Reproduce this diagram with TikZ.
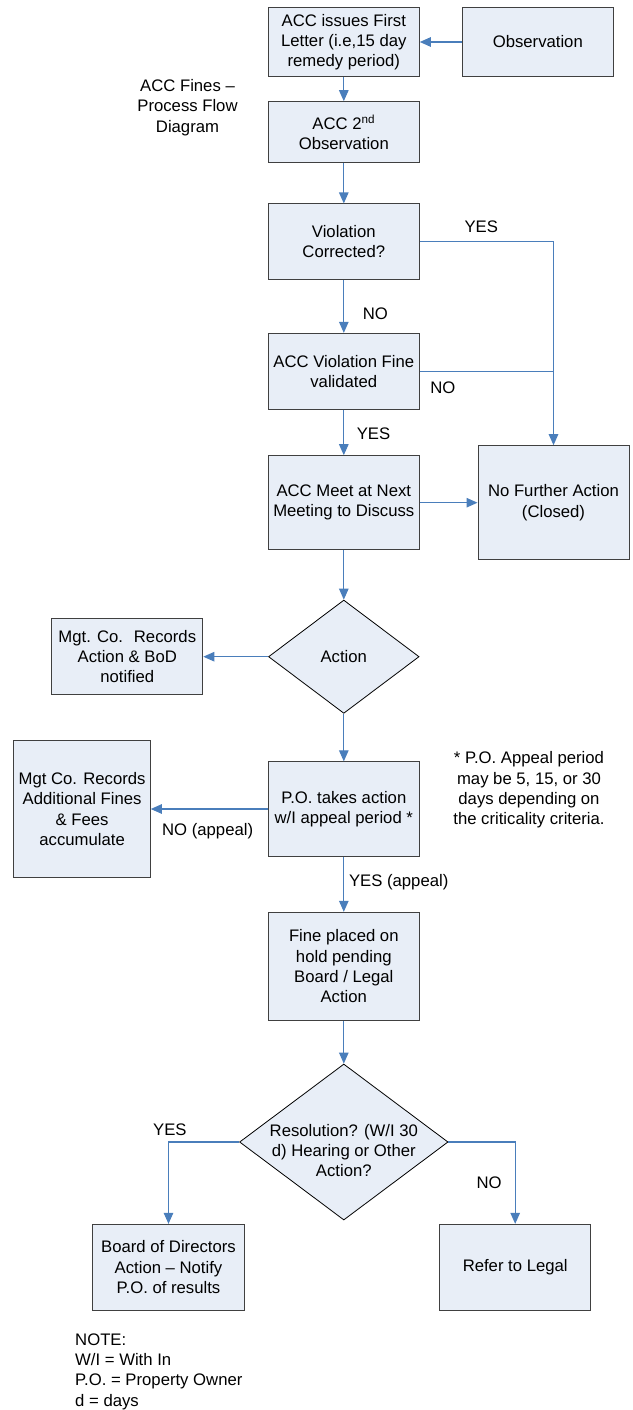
\documentclass[tikz,border=0pt]{standalone}
\usepackage{fontspec}
\setmainfont{Liberation Sans}
\usetikzlibrary{positioning, shapes.geometric, arrows.meta}
\definecolor{boxfill}{HTML}{E8EEF7}
\definecolor{boxline}{HTML}{404040}
\definecolor{flowblue}{HTML}{4A7EBB}
\tikzset{
  box/.style={draw=boxline, line width=1pt, fill=boxfill, align=center, inner sep=0pt, minimum width=151pt},
  decision/.style={diamond, draw=black, line width=0.8pt, fill=boxfill, align=center, inner sep=0pt},
  plain/.style={align=center, inner sep=0pt},
  tag/.style={inner sep=1pt, text=black},
  flow/.style={draw, color=flowblue, line width=1.1pt, -{Triangle[length=11pt, width=9.5pt]}},
  link/.style={draw, color=flowblue, line width=1.1pt},
}
\begin{document}
\begin{tikzpicture}[x=1pt, y=-1pt, font=\fontsize{16.7pt}{20.3pt}\selectfont]
    \useasboundingbox (0,0) rectangle (632,1410);
    \node[box, minimum height=69.5pt] (letter) at (343.8,42) {ACC issues First\\Letter (i.e,15 day\\remedy period)};
    \node[box, minimum height=69.5pt, node distance=194pt, right of=letter] (observ) {Observation};
    \node[box, minimum height=61pt, node distance=90.2pt, below of=letter] (second) {ACC 2\textsuperscript{nd}\\Observation};
    \node[box, minimum height=75.5pt, node distance=109.5pt, below of=second] (corrected) {Violation\\Corrected?};
    \node[box, minimum height=75.7pt, node distance=129.5pt, below of=corrected] (validated) {ACC Violation Fine\\validated};
    \node[box, minimum height=94pt, node distance=131.5pt, below of=validated] (meet) {ACC Meet at Next\\Meeting to Discuss};
    \node[box, minimum height=114pt, node distance=209.7pt, right of=meet] (closed) {No Further Action\\(Closed)};
    \node[decision, minimum width=150.6pt, minimum height=113.3pt, node distance=154pt, below of=meet] (action) {Action};
    \node[box, minimum height=76pt, node distance=216.5pt, left of=action] (records) {Mgt. Co.~ Records\\Action \& BoD\\notified};
    \node[box, minimum height=94.3pt, node distance=152.3pt, below of=action] (appeal) {P.O. takes action\\w/I appeal period *};
    \node[box, minimum width=136.4pt, minimum height=137pt, node distance=261.7pt, left of=appeal] (fees) {Mgt Co. Records\\Additional Fines\\\& Fees\\accumulate};
    \node[box, minimum height=108pt, node distance=157.3pt, below of=appeal] (hold) {Fine placed on\\hold pending\\Board / Legal\\Action};
    \node[decision, minimum width=208.5pt, minimum height=156pt, node distance=175.7pt, below of=hold,
      label={[align=center, yshift=-8.6pt]center:Resolution? (W/I 30\\d) Hearing or Other\\Action?}] (resolution) {};
    \node[box, minimum width=151.6pt, minimum height=85.7pt] (board) at (168.5,1267.2) {Board of Directors\\Action – Notify\\P.O. of results};
    \node[box, minimum height=85.7pt] (legal) at (515.2,1267.2) {Refer to Legal};

    % free text
    \node[plain] (title) at (187.5,107.5) {ACC Fines –\\Process Flow\\Diagram};
    \node[plain] (footnote) at (529,790) {* P.O. Appeal period\\may be 5, 15, or 30\\days depending on\\the criticality criteria.};
    \node[plain, align=left, anchor=north west] (note) at (75,1333.3) {NOTE:\\W/I = With In\\P.O. = Property Owner\\d = days};

    \coordinate (merge) at (validated.east -| closed.north);

    \draw[flow]
    (observ) edge (letter)
    (letter) edge (second)
    (second) edge (corrected)
    (corrected) edge node[tag, pos=0.64, right=17.5pt] {NO} (validated)
    (validated) edge node[tag, pos=0.535, right=11.5pt] {YES} (meet)
    (meet) edge (closed)
    (meet) edge (action)
    (action) edge (records)
    (action) edge (appeal)
    (appeal) edge node[tag, pos=0.514, below=12.5pt] {NO (appeal)} (fees)
    (appeal) edge node[tag, pos=0.46, right=3.7pt] {YES (appeal)} (hold)
    (hold) edge (resolution);
    \draw[flow] (corrected) -| node[tag, pos=0.23, above=7pt] {YES} (closed);
    \draw[link] (validated) -- node[tag, pos=0.173, below=8.8pt] {NO} (merge);
    \draw[flow] (resolution) -| node[tag, pos=0.49, above=5.2pt] {YES} (board);
    \draw[flow] (resolution) -| node[tag, pos=0.75, left=12pt] {NO} (legal);
\end{tikzpicture}
\end{document}
